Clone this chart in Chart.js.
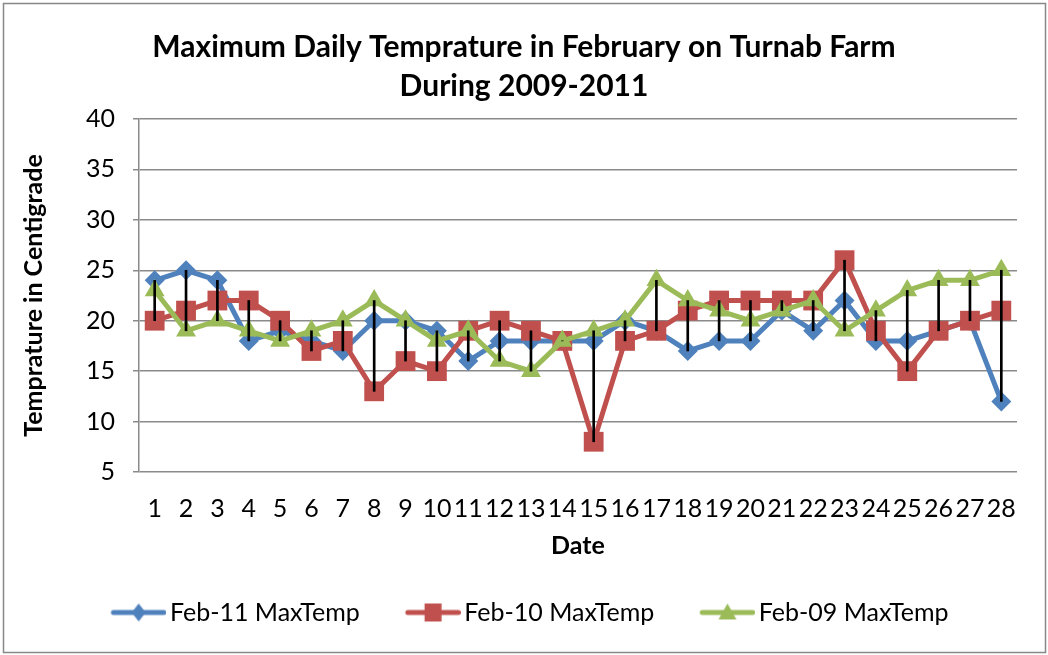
<!DOCTYPE html>
<html>
<head>
<meta charset="utf-8">
<script src="https://cdn.jsdelivr.net/npm/chart.js@4.4.1/dist/chart.umd.min.js"></script>
<style>
  html, body { margin: 0; padding: 0; background: #fff; }
  #wrap { width: 1048px; height: 655px; position: relative; }
</style>
</head>
<body>
<div id="wrap"><canvas id="c" width="1048" height="655"></canvas></div>
<script>
const dates = ['1','2','3','4','5','6','7','8','9','10','11','12','13','14','15','16','17','18','19','20','21','22','23','24','25','26','27','28'];
const feb11 = [24,25,24,18,19,18,17,20,20,19,16,18,18,18,18,20,19,17,18,18,21,19,22,18,18,19,20,12];
const feb10 = [20,21,22,22,20,17,18,13,16,15,19,20,19,18,8,18,19,21,22,22,22,22,26,19,15,19,20,21];
const feb09 = [23,19,20,19,18,19,20,22,20,18,19,16,15,18,19,20,24,22,21,20,21,22,19,21,23,24,24,25];
const seriesNames = ['Feb-11 MaxTemp','Feb-10 MaxTemp','Feb-09 MaxTemp'];
const yTicks = [5,10,15,20,25,30,35,40];

const BLUE = '#4F81BD', RED = '#C0504D', GREEN = '#9BBB59';
const FONT = 'Lato, "Open Sans", sans-serif';
const LEG_FS = 25;

// high-low ranges derived from the three series
const hiLo = dates.map((d, i) => {
  const v = [feb11[i], feb10[i], feb09[i]];
  return [Math.min(...v), Math.max(...v)];
});

function legendImage(color, shape) {
  const W = 76, H = 26;
  const cv = document.createElement('canvas');
  cv.width = W; cv.height = H;
  const g = cv.getContext('2d');
  const x0 = 20.5, x1 = 76, cy = H / 2, cx = (x0 + x1) / 2;
  g.strokeStyle = color; g.lineWidth = 5; g.lineCap = 'round';
  g.beginPath(); g.moveTo(x0 + 2.5, cy); g.lineTo(x1 - 2.5, cy); g.stroke();
  g.fillStyle = color;
  g.beginPath();
  if (shape === 'diamond') {
    g.moveTo(cx, cy - 9); g.lineTo(cx + 7, cy); g.lineTo(cx, cy + 9); g.lineTo(cx - 7, cy); g.closePath();
  } else if (shape === 'square') {
    g.rect(cx - 8.5, cy - 9, 17, 18);
  } else {
    g.moveTo(cx, cy - 9); g.lineTo(cx + 9, cy + 7); g.lineTo(cx - 9, cy + 7); g.closePath();
  }
  g.fill();
  return cv;
}
const legendImgs = [legendImage(BLUE, 'diamond'), legendImage(RED, 'square'), legendImage(GREEN, 'triangle')];

const framePlugin = {
  id: 'frame',
  beforeDraw(chart) {
    const ctx = chart.ctx;
    ctx.save();
    ctx.fillStyle = '#fff';
    ctx.fillRect(0, 0, chart.width, chart.height);
    ctx.strokeStyle = '#888';
    ctx.lineWidth = 1.5;
    ctx.strokeRect(3.5, 3.5, 1042, 649);
    ctx.restore();
  }
};

new Chart(document.getElementById('c'), {
  type: 'line',
  data: {
    labels: dates,
    datasets: [
      { label: seriesNames[0], data: feb11, borderColor: BLUE, backgroundColor: BLUE,
        borderWidth: 5, pointStyle: 'rectRot', pointRadius: 10, pointHoverRadius: 10,
        pointBorderWidth: 0, order: 3, tension: 0 },
      { label: seriesNames[1], data: feb10, borderColor: RED, backgroundColor: RED,
        borderWidth: 5, pointStyle: 'rect', pointRadius: 14, pointHoverRadius: 14,
        pointBorderWidth: 0, order: 2, tension: 0 },
      { label: seriesNames[2], data: feb09, borderColor: GREEN, backgroundColor: GREEN,
        borderWidth: 5, pointStyle: 'triangle', pointRadius: 11.5, pointHoverRadius: 11.5,
        pointBorderWidth: 0, order: 1, tension: 0 },
      { type: 'bar', label: 'hilo', data: hiLo, backgroundColor: '#000', borderWidth: 0,
        barThickness: 2, order: 0, grouped: false }
    ]
  },
  options: {
    responsive: false,
    animation: false,
    events: [],
    layout: { padding: { left: 0, right: 0, top: 0, bottom: 20 } },
    plugins: {
      tooltip: { enabled: false },
      title: {
        display: true,
        text: ['Maximum Daily Temprature in February on Turnab Farm', 'During 2009-2011'],
        color: '#000',
        font: { family: FONT, size: 30, weight: 'bold', lineHeight: 39 / 30 },
        padding: { top: 27.5, bottom: 13.5 }
      },
      legend: {
        position: 'bottom',
        labels: {
          color: '#000',
          font: { family: FONT, size: LEG_FS },
          usePointStyle: true,
          pointStyleWidth: 58,
          padding: 34,
          filter: (item) => item.datasetIndex < 3,
          sort: (a, b) => a.datasetIndex - b.datasetIndex,
          generateLabels: (chart) => chart.data.datasets.slice(0, 3).map((ds, i) => ({
            text: ds.label, datasetIndex: i, pointStyle: legendImgs[i],
            fillStyle: ds.backgroundColor, strokeStyle: ds.borderColor, lineWidth: 0, hidden: false
          }))
        }
      }
    },
    scales: {
      x: {
        offset: true,
        grid: { display: false },
        border: { display: false },
        ticks: { color: '#000', font: { family: FONT, size: 25 }, padding: 14, autoSkip: false, maxRotation: 0, minRotation: 0 },
        title: { display: true, text: 'Date', color: '#000', font: { family: FONT, size: 25, weight: 'bold' }, padding: { top: 0, bottom: 5 } },
        afterFit: (s) => { s.height = 94; }
      },
      y: {
        min: 5, max: 40,
        afterBuildTicks: (s) => { s.ticks = yTicks.map(v => ({ value: v })); },
        grid: { color: '#8a8a8a', lineWidth: 1.5, tickLength: 6, drawTicks: true },
        border: { display: true, color: '#8a8a8a', width: 1.5 },
        ticks: { color: '#000', font: { family: FONT, size: 25 }, padding: 18 },
        title: { display: true, text: 'Temprature in Centigrade', color: '#000', font: { family: FONT, size: 25, weight: 'bold' }, padding: { top: 18.5, bottom: 0 } },
        afterFit: (s) => { s.width = 139; }
      },
      yR: {
        position: 'right',
        display: true,
        grid: { display: false },
        border: { display: false },
        ticks: { display: false },
        afterFit: (s) => { s.width = 31; }
      }
    }
  },
  plugins: [framePlugin]
});
</script>
</body>
</html>
